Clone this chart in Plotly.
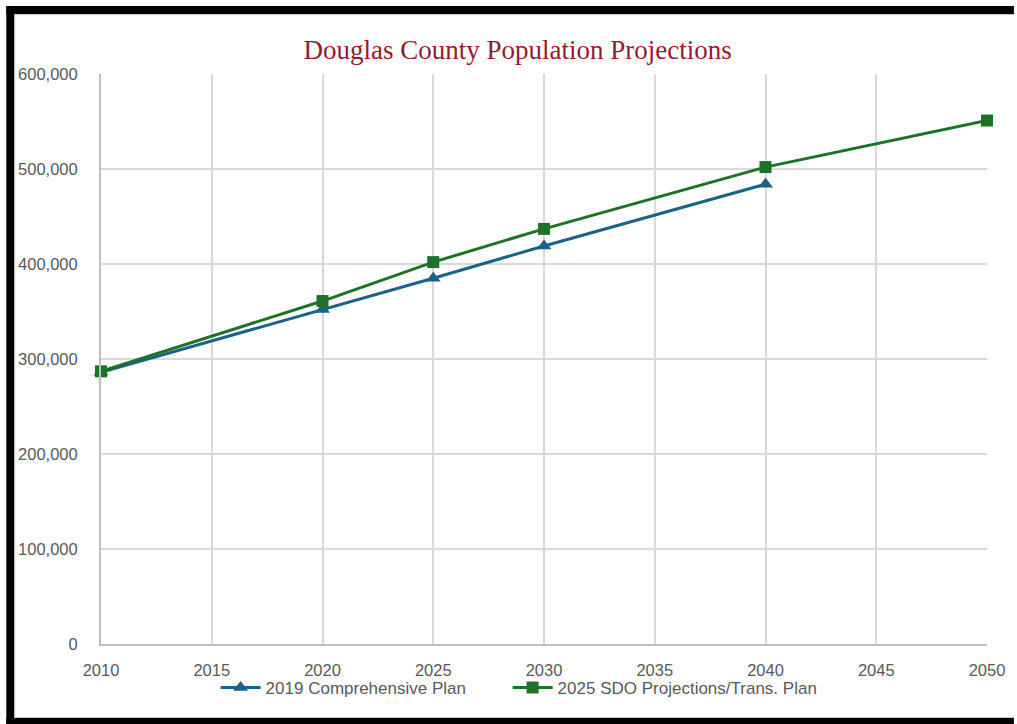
import plotly.graph_objects as go

# Population projections for Douglas County
comp_years = [2010, 2020, 2025, 2030, 2040]
comp_pop = [286000, 352000, 385000, 419000, 484000]

sdo_years = [2010, 2020, 2025, 2030, 2040, 2050]
sdo_pop = [287000, 361000, 402000, 437000, 502000, 551000]

comp_name = "2019 Comprehensive Plan"
sdo_name = "2025 SDO Projections/Trans. Plan"
title_text = "Douglas County Population Projections"

W, H = 1017, 724
L, R, T, B = 101, 27, 74, 80
pw, ph = W - L - R, H - T - B


def px_x(p):
    return (p - L) / pw


def px_y(p):
    return (T + ph - p) / ph


fig = go.Figure()
fig.add_trace(go.Scatter(
    x=comp_years, y=comp_pop, name=comp_name, mode="lines+markers",
    line=dict(color="#1C6188", width=3), cliponaxis=False,
    marker=dict(symbol="triangle-up", size=13, color="#1C6188"),
    legend="legend",
))
fig.add_trace(go.Scatter(
    x=sdo_years, y=sdo_pop, name=sdo_name, mode="lines+markers",
    line=dict(color="#1E7128", width=3), cliponaxis=False,
    marker=dict(symbol="square", size=12, color="#1E7128"),
    legend="legend2",
))

grid = "#d9d9d9"
tick_font = dict(family="Liberation Sans, Arial, sans-serif", size=16.5, color="#595959")

fig.update_xaxes(
    range=[2010, 2050], tick0=2010, dtick=5, showgrid=True, gridcolor=grid,
    gridwidth=2, showline=True, linecolor="#bfbfbf", linewidth=2, mirror=False,
    zeroline=False, tickfont=tick_font, ticklabelstandoff=10, fixedrange=True,
)
fig.update_yaxes(
    range=[0, 600000], dtick=100000, tickformat=",d", showgrid=True,
    gridcolor=grid, gridwidth=2, showline=True, linecolor="#bfbfbf",
    linewidth=2, zeroline=False, tickfont=tick_font, ticklabelstandoff=18,
    fixedrange=True,
)

# outer black frame: top, left and bottom bands (right side runs off the page)
frame_bands = [
    (6, 1017, 6, 14),     # top
    (6, 14, 6, 724),      # left
    (6, 1017, 718, 724),  # bottom
]
for x0, x1, y0, y1 in frame_bands:
    fig.add_shape(
        type="rect", xref="paper", yref="paper",
        x0=px_x(x0), x1=px_x(x1), y0=px_y(y0), y1=px_y(y1),
        line=dict(width=0), fillcolor="black", layer="above",
    )
# thin grey inner edge beside the frame
for x0, x1, y0, y1 in [(14.5, 1017, 14.5, 14.5), (14.5, 14.5, 14.5, 717.5),
                       (14.5, 1017, 717.5, 717.5)]:
    fig.add_shape(type="line", xref="paper", yref="paper",
                  x0=px_x(x0), x1=px_x(x1), y0=px_y(y0), y1=px_y(y1),
                  line=dict(color="#c8c8c8", width=1), layer="above")

legend_font = dict(family="Liberation Sans, Arial, sans-serif", size=17, color="#595959")
fig.update_layout(
    width=W, height=H, autosize=False,
    margin=dict(l=L, r=R, t=T, b=B, pad=0),
    paper_bgcolor="white", plot_bgcolor="white",
    title=dict(
        text=title_text, x=px_x(519), xref="paper", xanchor="center",
        y=1 - 50 / H, yanchor="middle",
        font=dict(family="Liberation Serif, Times New Roman, serif", size=27, color="#931A30"),
    ),
    legend=dict(
        orientation="h", x=px_x(216), xanchor="left", y=px_y(670), yanchor="top",
        font=legend_font, bgcolor="rgba(0,0,0,0)", itemwidth=40,
    ),
    legend2=dict(
        orientation="h", x=px_x(509), xanchor="left", y=px_y(670), yanchor="top",
        font=legend_font, bgcolor="rgba(0,0,0,0)", itemwidth=40,
    ),
    showlegend=True,
)

fig.write_html("out.html")
